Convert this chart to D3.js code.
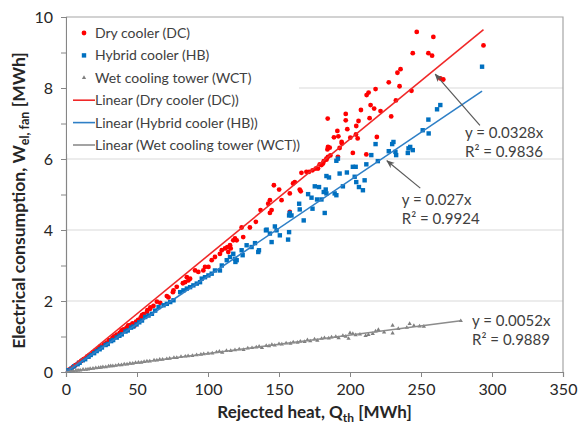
<!DOCTYPE html>
<html>
<head>
<meta charset="utf-8">
<script src="https://cdn.jsdelivr.net/npm/d3@7"></script>
<style>
  body { margin: 0; background: #fff; }
  text { font-family: Lato, "Liberation Sans", sans-serif; }
</style>
</head>
<body>
<div id="chart"></div>
<script>
// Dry cooler (DC) - [rejected heat MWh, electrical consumption MWh]
const dcPoints = [
  [2.5,0.07],[4.8,0.14],[6.6,0.19],[8.9,0.26],[10.7,0.31],[12.4,0.36],[14.8,0.43],[16.3,0.47],[18.9,0.55],[20.6,0.6],
  [22.7,0.66],[24.2,0.72],[26.8,0.78],[28.5,0.83],[30.4,0.9],[32.7,0.96],[33.9,1.0],[35.6,1.05],[37.8,1.1],[39.1,1.17],
  [40.5,1.2],[42.6,1.25],[43.8,1.31],[45.7,1.33],[46.9,1.37],[48.2,1.3],[49.4,1.42],[50.8,1.47],[52.6,1.53],[53.5,1.6],
  [54.6,1.63],[57,1.69],[57.3,1.74],[59.3,1.78],[59.4,1.82],[61.6,1.86],[64,1.98],[66.3,1.95],[71,2.14],[72.2,2.1],
  [75.3,2.25],[75.7,2.3],[78,2.4],[82.3,2.5],[83.9,2.53],[85.1,2.67],[86.2,2.58],[87.4,2.63],[90.9,2.86],[93.2,2.82],
  [96.7,2.86],[97.9,2.96],[100.3,2.96],[102.6,3.15],[104.9,3.24],[108.4,3.33],[109.7,3.43],[112,3.48],[113.6,3.52],[114.3,3.38],
  [115.5,3.57],[116,3.48],[117.8,3.71],[119,3.76],[120.2,3.71],[123.7,4.07],[124.8,3.8],[129.5,4.07],[133.7,4.23],[137,4.56],
  [142.4,4.74],[143.6,4.84],[143.6,4.48],[144.8,4.56],[146.4,5.26],[150.1,5.14],[151.8,4.84],[157.6,5.03],[157.6,4.51],[159.9,5.31],
  [161.1,5.35],[164.6,5.14],[165.3,5.09],[165.8,5.61],[169.3,5.64],[171.2,5.64],[173.6,5.68],[175.9,5.73],[177.5,5.73],[178.7,5.85],
  [179.9,5.83],[181,5.87],[181.5,5.94],[183.4,5.98],[183.4,6.01],[184.1,6.27],[184.3,7.14],[184.5,6.06],[184.5,6.34],[185.7,6.32],
  [186.2,6.1],[188.7,6.61],[191.1,6.79],[191.5,6.06],[191.8,6.64],[192.7,6.31],[194.1,6.48],[194.3,6.44],[197,7.27],[197,7.09],
  [198.1,6.84],[200.2,6.6],[202,6.17],[204.2,6.69],[204.4,6.93],[205.4,6.58],[206,7.07],[207.7,7.38],[211.5,6.13],[211.7,7.8],
  [213.1,7.87],[213.8,7.15],[214.5,7.52],[217,7.42],[218,7.97],[218.9,6.62],[221.5,7.35],[227.3,8.16],[229,7.2],[232.3,7.65],
  [233.4,8.43],[234.9,8.05],[235.6,8.53],[243.3,7.92],[244.2,8.98],[247,9.58],[255.2,8.98],[257.8,8.91],[258.7,9.44],[263.6,8.27],
  [265.7,8.24],[294,9.2]
];

// Hybrid cooler (HB)
const hbPoints = [
  [1.8,0.05],[3.9,0.1],[5.7,0.16],[8.2,0.22],[9.6,0.26],[11.8,0.33],[13.5,0.36],[15.9,0.43],[17.4,0.48],[19.8,0.53],
  [21.6,0.59],[23.7,0.64],[25.3,0.69],[27.9,0.76],[29.4,0.79],[31.8,0.87],[33.2,0.9],[35.7,0.97],[37.6,1.02],[39.3,1.06],
  [41.9,1.14],[43.5,1.17],[45.8,1.25],[47.4,1.28],[49.7,1.34],[51.6,1.4],[53.5,1.45],[55.8,1.55],[58.1,1.59],[60.5,1.64],
  [62.8,1.73],[65.2,1.83],[68.7,1.88],[71,1.92],[73.4,1.97],[75.7,2.02],[80.4,2.25],[82.7,2.3],[85.1,2.35],[87.4,2.39],
  [89.7,2.44],[92.1,2.49],[94.4,2.53],[95.6,2.63],[97.9,2.67],[100.3,2.72],[102.6,2.77],[104.9,2.86],[108.4,2.86],[109.7,3.0],
  [113.2,3.15],[115.5,3.24],[117.8,3.33],[119,3.19],[119.3,3.1],[120.2,3.15],[123.7,3.43],[124.4,3.29],[127.2,3.57],[130.7,3.52],
  [133.1,3.63],[135.4,3.38],[135.9,3.43],[140.8,3.99],[141.3,4.01],[143.6,3.9],[144.8,3.66],[147.1,4.1],[148.3,3.99],[150.6,3.85],
  [156.4,3.73],[157.1,3.94],[157.1,4.41],[157.6,4.48],[158.8,4.41],[164.2,4.74],[164.6,4.58],[167.4,4.27],[170.5,5.01],[172.9,4.91],
  [173.6,4.6],[175.2,5.23],[176.8,4.86],[178.2,5.21],[179.9,4.86],[181.5,5.07],[182.2,4.48],[182.9,5.14],[183.4,5.03],[183.4,5.52],
  [185.2,5.48],[189.2,5.03],[190.4,4.98],[190.4,5.95],[191.5,6.01],[192.7,5.59],[195,5.23],[197.8,5.62],[202,5.78],[203.3,5.5],
  [204,5.78],[204.4,5.35],[206.3,5.21],[209.1,5.12],[210.3,5.4],[211.5,5.85],[215,6.11],[218,6.42],[219.6,5.94],[227.3,6.22],
  [229.7,6.42],[230.6,6.48],[232,6.2],[232.5,6.11],[240.7,6.17],[241.2,6.3],[242.4,6.34],[244.2,6.25],[251.2,6.81],[255.2,7.11],
  [255.4,6.72],[261.3,7.4],[263.6,7.52],[293,8.6]
];

// Wet cooling tower (WCT)
const wctPoints = [
  [1,0.01],[3,0.02],[5,0.03],[7,0.04],[8.5,0.05],[10,0.05],[12,0.07],[14,0.07],[15.5,0.08],[17,0.09],
  [19,0.1],[21,0.11],[23,0.12],[24.5,0.13],[26,0.14],[28,0.14],[30,0.16],[31.5,0.17],[33,0.17],[35,0.18],
  [37,0.2],[39,0.2],[41,0.22],[43,0.22],[45,0.24],[47,0.24],[49,0.26],[51,0.27],[53,0.27],[55,0.29],
  [57,0.3],[59,0.3],[62,0.33],[64,0.33],[66,0.35],[68,0.35],[71,0.37],[73,0.38],[76,0.4],[78,0.4],
  [81,0.43],[84,0.44],[86,0.45],[89,0.46],[92,0.48],[95,0.49],[97,0.51],[100,0.52],[103,0.53],[106,0.56],
  [108,0.58],[110,0.55],[113,0.6],[116,0.6],[119,0.62],[122,0.64],[125,0.63],[128,0.67],[131,0.68],[134,0.7],
  [136,0.72],[138,0.68],[141,0.74],[143,0.73],[145,0.77],[147,0.75],[150,0.79],[152,0.78],[155,0.81],[158,0.8],
  [160,0.84],[163,0.83],[165,0.86],[168,0.85],[170,0.9],[172,0.87],[175,0.92],[177,0.89],[180,0.94],[182,0.96],
  [185,0.95],[187,0.98],[190,0.99],[192,0.96],[195,1.02],[197,1.0],[199,0.94],[200,1.1],[202,1.08],[204,1.04],
  [207,1.06],[211,1.02],[213,1.05],[216,1.08],[218,1.15],[220,1.19],[224,1.12],[230,1.31],[230,1.09],[234,1.22],
  [240,1.25],[242,1.36],[245,1.3],[249,1.29],[252,1.28],[278,1.44]
];

// trendline slopes and labels from the chart
const slopes = { dc: 0.0328, hb: 0.027, wct: 0.0052 };
const eqLabels = [
  { id: "dc", eq: "y = 0.0328x", r2: "0.9836" },
  { id: "hb", eq: "y = 0.027x", r2: "0.9924" },
  { id: "wct", eq: "y = 0.0052x", r2: "0.9889" }
];
const legendLabels = [
  "Dry cooler (DC)",
  "Hybrid cooler (HB)",
  "Wet cooling tower (WCT)",
  "Linear (Dry cooler (DC))",
  "Linear (Hybrid cooler (HB))",
  "Linear (Wet cooling tower (WCT))"
];
const xTicks = [0, 50, 100, 150, 200, 250, 300, 350];
const yTicks = [0, 1, 2, 3, 4, 5, 6, 7, 8, 9, 10];

const width = 578;
const height = 432;
const margin = { top: 17, left: 66, bottom: 60, right: 15 };
const plotWidth = width - margin.left - margin.right;
const plotHeight = height - margin.top - margin.bottom;

const colors = { dc: "#ff0000", hb: "#0070c0", wct: "#7f7f7f" };
const lineColors = { dc: "#f02828", hb: "#2e7fc6", wct: "#8c8c8c" };
const textColor = "#404040";

const xScale = d3.scaleLinear().domain([0, 350]).range([0, plotWidth]);
const yScale = d3.scaleLinear().domain([0, 10]).range([plotHeight, 0]);

const svg = d3.select("#chart")
  .append("svg")
  .attr("width", width)
  .attr("height", height);

const plotG = svg.append("g")
  .attr("transform", `translate(${margin.left},${margin.top})`);

// gridlines
plotG.append("g")
  .selectAll("line")
  .data([2, 4, 6, 8])
  .enter()
  .append("line")
  .attr("x1", 0)
  .attr("x2", plotWidth)
  .attr("y1", d => yScale(d))
  .attr("y2", d => yScale(d))
  .attr("stroke", "#d9d9d9")
  .attr("stroke-width", 1);

// top and right border
plotG.append("path")
  .attr("d", `M0,${yScale(10)}H${plotWidth}V${plotHeight}`)
  .attr("fill", "none")
  .attr("stroke", "#a6a6a6")
  .attr("stroke-width", 1.2);

const xAxis = d3.axisBottom(xScale).tickValues(xTicks).tickSize(5).tickPadding(7);
const yAxis = d3.axisLeft(yScale).tickValues(yTicks).tickSize(5).tickPadding(8)
  .tickFormat(d => (d % 2 === 0 ? d : ""));

const xAxisG = plotG.append("g")
  .attr("transform", `translate(0,${plotHeight})`)
  .call(xAxis);
const yAxisG = plotG.append("g").call(yAxis);

[xAxisG, yAxisG].forEach(g => {
  g.select(".domain").attr("stroke", "#868686").attr("stroke-width", 1.2);
  g.selectAll(".tick line").attr("stroke", "#868686");
  g.selectAll(".tick text")
    .attr("fill", "#262626")
    .style("font-size", "16px");
});

// points
plotG.append("g")
  .selectAll("circle")
  .data(dcPoints)
  .enter()
  .append("circle")
  .attr("cx", d => xScale(d[0]))
  .attr("cy", d => yScale(d[1]))
  .attr("r", 2.4)
  .attr("fill", colors.dc);

plotG.append("g")
  .selectAll("rect")
  .data(hbPoints)
  .enter()
  .append("rect")
  .attr("x", d => xScale(d[0]) - 2.2)
  .attr("y", d => yScale(d[1]) - 2.2)
  .attr("width", 4.4)
  .attr("height", 4.4)
  .attr("fill", colors.hb);

const tri = d3.symbol().type(d3.symbolTriangle).size(8);
plotG.append("g")
  .selectAll("path")
  .data(wctPoints)
  .enter()
  .append("path")
  .attr("d", tri)
  .attr("transform", d => `translate(${xScale(d[0])},${yScale(d[1])})`)
  .attr("fill", colors.wct);

// linear trendlines through the origin
const series = [
  { id: "dc", data: dcPoints },
  { id: "hb", data: hbPoints },
  { id: "wct", data: wctPoints }
];
plotG.append("g")
  .selectAll("line")
  .data(series)
  .enter()
  .append("line")
  .attr("x1", xScale(0))
  .attr("y1", yScale(0))
  .attr("x2", d => xScale(d3.max(d.data, p => p[0])))
  .attr("y2", d => yScale(slopes[d.id] * d3.max(d.data, p => p[0])))
  .attr("stroke", d => lineColors[d.id])
  .attr("stroke-width", 1.6);

// legend
const legendG = plotG.append("g").attr("transform", "translate(1,1)");
legendG.append("rect")
  .attr("width", 232)
  .attr("height", 136)
  .attr("fill", "#fff");

const rowY = i => 15 + i * 22.4;
const legendItems = legendG.selectAll(".item")
  .data(legendLabels)
  .enter()
  .append("g")
  .attr("class", "item")
  .attr("transform", (d, i) => `translate(0,${rowY(i)})`);

legendItems.append("text")
  .attr("x", 28)
  .attr("dy", "0.35em")
  .attr("fill", textColor)
  .style("font-size", "14px")
  .text(d => d);

legendItems.filter((d, i) => i === 0).append("circle")
  .attr("cx", 17).attr("r", 2.4).attr("fill", colors.dc);
legendItems.filter((d, i) => i === 1).append("rect")
  .attr("x", 14.8).attr("y", -2.2).attr("width", 4.4).attr("height", 4.4).attr("fill", colors.hb);
legendItems.filter((d, i) => i === 2).append("path")
  .attr("d", tri).attr("transform", "translate(17,0)").attr("fill", colors.wct);
legendItems.filter((d, i) => i >= 3).append("line")
  .attr("x1", 6).attr("x2", 28)
  .attr("stroke", (d, i) => [lineColors.dc, lineColors.hb, lineColors.wct][i])
  .attr("stroke-width", 1.6);

// equation labels with arrows
svg.append("defs").append("marker")
  .attr("id", "arrow")
  .attr("viewBox", "0 0 10 10")
  .attr("refX", 9)
  .attr("refY", 5)
  .attr("markerWidth", 7)
  .attr("markerHeight", 7)
  .attr("orient", "auto")
  .append("path")
  .attr("d", "M0,1L10,5L0,9L3,5Z")
  .attr("fill", "#595959");

const eqPos = {
  dc: { x: 281, y: 6.73, from: [291.5, 6.95], to: [260, 8.39] },
  hb: { x: 236.5, y: 4.85, from: [249.5, 5.18], to: [226, 5.95] },
  wct: { x: 286, y: 1.43 }
};

eqLabels.forEach(l => {
  const p = eqPos[l.id];
  if (p.from) {
    plotG.append("line")
      .attr("x1", xScale(p.from[0]))
      .attr("y1", yScale(p.from[1]))
      .attr("x2", xScale(p.to[0]))
      .attr("y2", yScale(p.to[1]))
      .attr("stroke", "#595959")
      .attr("stroke-width", 1.2)
      .attr("marker-end", "url(#arrow)");
  }
  const t = plotG.append("text")
    .attr("x", xScale(p.x))
    .attr("y", yScale(p.y))
    .attr("fill", textColor)
    .style("font-size", "15px");
  t.append("tspan").attr("dy", "0.35em").text(l.eq);
  t.append("tspan").attr("x", xScale(p.x)).attr("dy", "1.25em").text(`R² = ${l.r2}`);
});

// axis titles
const xTitle = svg.append("text")
  .attr("x", margin.left + plotWidth / 2)
  .attr("y", 418)
  .attr("text-anchor", "middle")
  .attr("fill", "#262626")
  .style("font-size", "17px")
  .style("font-weight", "bold");
xTitle.append("tspan").text("Rejected heat, Q");
xTitle.append("tspan").attr("dy", 4).style("font-size", "12px").text("th");
xTitle.append("tspan").attr("dy", -4).text(" [MWh]");

const yTitle = svg.append("text")
  .attr("transform", `translate(25,${margin.top + plotHeight / 2 + 6}) rotate(-90)`)
  .attr("text-anchor", "middle")
  .attr("fill", "#262626")
  .style("font-size", "17.5px")
  .style("font-weight", "bold");
yTitle.append("tspan").text("Electrical consumption, W");
yTitle.append("tspan").attr("dy", 4).style("font-size", "12.5px").text("el, fan");
yTitle.append("tspan").attr("dy", -4).text(" [MWh]");
</script>
</body>
</html>
